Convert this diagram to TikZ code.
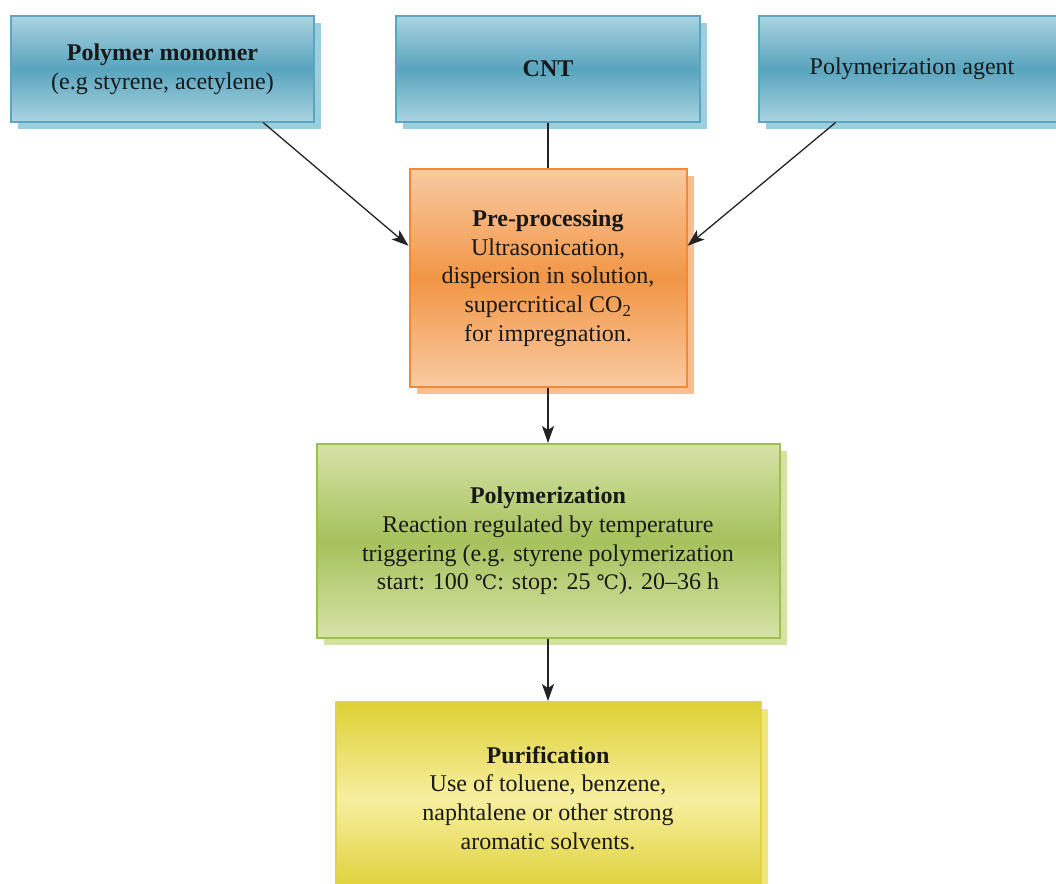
\documentclass[tikz,border=0pt]{standalone}
\usepackage{fontspec}
\setmainfont{Liberation Serif}
\newfontfamily\celsiusfont{DejaVu Serif}
\usetikzlibrary{arrows.meta,shadows}
\definecolor{textdark}{RGB}{24,24,24}
\definecolor{linedark}{RGB}{35,35,35}
\definecolor{bluelight}{RGB}{170,212,224}
\definecolor{bluedark}{RGB}{88,164,190}
\definecolor{blueline}{RGB}{86,166,196}
\definecolor{blueshadow}{RGB}{156,206,220}
\definecolor{orangelight}{RGB}{249,202,162}
\definecolor{orangedark}{RGB}{242,150,70}
\definecolor{orangeline}{RGB}{240,138,52}
\definecolor{orangeshadow}{RGB}{249,190,146}
\definecolor{greenlight}{RGB}{214,227,168}
\definecolor{greendark}{RGB}{166,193,92}
\definecolor{greenline}{RGB}{158,190,82}
\definecolor{greenshadow}{RGB}{212,226,160}
\definecolor{yellowlight}{RGB}{247,239,160}
\definecolor{yellowdark}{RGB}{222,208,52}
\definecolor{yellowline}{RGB}{226,212,70}
\definecolor{yellowshadow}{RGB}{240,230,128}
\newcommand{\celsius}{{\celsiusfont\fontsize{20}{28.7}\selectfont ℃}}
\tikzset{
  box/.style={draw, line width=2pt, align=center, inner sep=0pt, text=textdark,
    font=\fontsize{24}{28.7}\selectfont},
  blue box/.style={box, draw=blueline, top color=bluelight, bottom color=bluelight,
    middle color=bluedark, general shadow={fill=blueshadow, shadow xshift=7pt, shadow yshift=-7pt},
    minimum height=105pt},
  orange box/.style={box, draw=orangeline, top color=orangelight, bottom color=orangelight,
    middle color=orangedark, general shadow={fill=orangeshadow, shadow xshift=7pt, shadow yshift=-7pt}},
  green box/.style={box, draw=greenline, top color=greenlight, bottom color=greenlight,
    middle color=greendark, general shadow={fill=greenshadow, shadow xshift=7pt, shadow yshift=-7pt}},
  yellow box/.style={box, draw=yellowline, top color=yellowdark, bottom color=yellowdark,
    middle color=yellowlight, general shadow={fill=yellowshadow, shadow xshift=7pt, shadow yshift=-7pt}},
  link/.style={line width=1.3pt, draw=linedark, -{Stealth[length=17pt,width=12pt,inset=4pt]}},
}
\begin{document}
\begin{tikzpicture}[x=1pt,y=-1pt]
  \useasboundingbox (0,0) rectangle (1056,883);
  % inputs
  \node[blue box, minimum width=303pt] (monomer) at (162.5,69)
    {\textbf{Polymer monomer}\\(e.g styrene, acetylene)};
  \node[blue box, minimum width=304pt] (cnt) at (548,69) {\textbf{CNT}};
  \node[blue box, minimum width=306pt] (agent) at (912,69) {Polymerization agent};
  % steps
  \node[orange box, minimum width=277pt, minimum height=218pt] (pre) at (548,278)
    {\textbf{Pre-processing}\\Ultrasonication,\\dispersion in solution,\\supercritical CO\textsubscript{2}\\for impregnation.};
  \node[green box, minimum width=463pt, minimum height=194pt] (poly) at (548,541)
    {\textbf{Polymerization}\\Reaction regulated by temperature\\triggering (e.g. styrene polymerization\\start: 100 \celsius: stop: 25 \celsius). 20--36 h};
  \node[yellow box, minimum width=425pt, minimum height=192pt] (purif) at (548,798)
    {\textbf{Purification}\\Use of toluene, benzene,\\naphtalene or other strong\\aromatic solvents.};
  % connectors
  \draw[link] (monomer.-28.5) -- (pre.167);
  \draw[line width=1.3pt, draw=linedark] (cnt.south) -- (pre.north);
  \draw[link] (agent.215.4) -- (pre.13);
  \draw[link] (pre.south) -- (poly.north);
  \draw[link] (poly.south) -- (purif.north);
\end{tikzpicture}
\end{document}
